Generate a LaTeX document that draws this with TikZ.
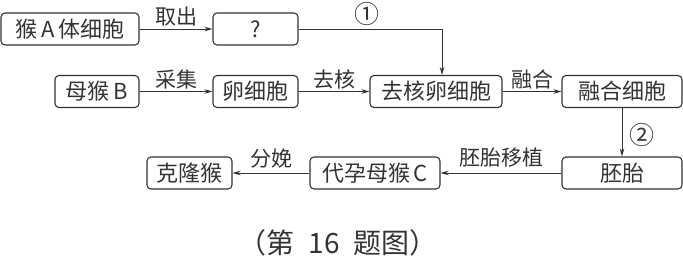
\documentclass[tikz,border=0pt]{standalone}
\usepackage{fontspec}
\setmainfont{Noto Sans CJK SC}
\usetikzlibrary{arrows.meta, positioning}
\definecolor{cline}{HTML}{333333}

\begin{document}
\begin{tikzpicture}[
  x=1pt, y=-1pt,
  font=\fontsize{22pt}{24pt}\selectfont,
  >={Stealth[length=8pt, width=4.5pt]},
  cellbox/.style={draw=cline, text=cline, line width=1.1pt, rounded corners=4pt,
               minimum height=32pt, inner sep=0pt},
  arr/.style={->, line width=0.9pt, draw=cline},
  lbl/.style={font=\fontsize{21pt}{23pt}\selectfont, text=cline, inner sep=0pt},
  ]
\useasboundingbox (0,0) rectangle (683,262);
% row 1
\node[cellbox, minimum width=138pt] (cellA) at (70,29) {猴\,A\,体细胞};
\node[cellbox, minimum width=85pt] (unk) at (255.5,29) {?};
% row 2
\node[cellbox, minimum width=84pt] (monkB) at (97,91.5) {母猴\,B};
\node[cellbox, minimum width=85pt] (egg) at (255.5,91.5) {卵细胞};
\node[cellbox, minimum width=132pt] (enuc) at (436,91.5) {去核卵细胞};
\node[cellbox, minimum width=120pt] (fused) at (622,91.5) {融合细胞};
% row 3
\node[cellbox, minimum width=120pt] (embryo) at (622,173) {胚胎};
\node[cellbox, minimum width=130pt] (surr) at (375,173) {代孕母猴\,C};
\node[cellbox, minimum width=85pt] (clone) at (189.5,173) {克隆猴};
\node[lbl, font=\fontsize{25pt}{27pt}\selectfont] (n1) at (367,14) {①};
\node[lbl, font=\fontsize{25pt}{27pt}\selectfont] (n2) at (642,135) {②};
\node[text=cline, font=\fontsize{28pt}{30pt}\selectfont] (caption) at (338,243)
  {（第\hspace{0.5em}16\hspace{0.5em}题图）};
\draw[arr] (cellA) -- node[lbl, midway, yshift=12.5pt] {取出} (unk);
\draw[arr] (unk.east) -| ([xshift=6pt]enuc.north);
\draw[arr] (monkB) -- node[lbl, midway, yshift=12pt] {采集} (egg);
\draw[arr] (egg) -- node[lbl, midway, yshift=12pt] {去核} (enuc);
\draw[arr] (enuc) -- node[lbl, midway, yshift=12pt] {融合} (fused);
\draw[arr] (fused) -- (embryo);
\draw[arr] (embryo) -- node[lbl, midway, yshift=15pt] {胚胎移植} (surr);
\draw[arr] (surr) -- node[lbl, midway, yshift=14.5pt] {分娩} (clone);
\end{tikzpicture}
\end{document}
